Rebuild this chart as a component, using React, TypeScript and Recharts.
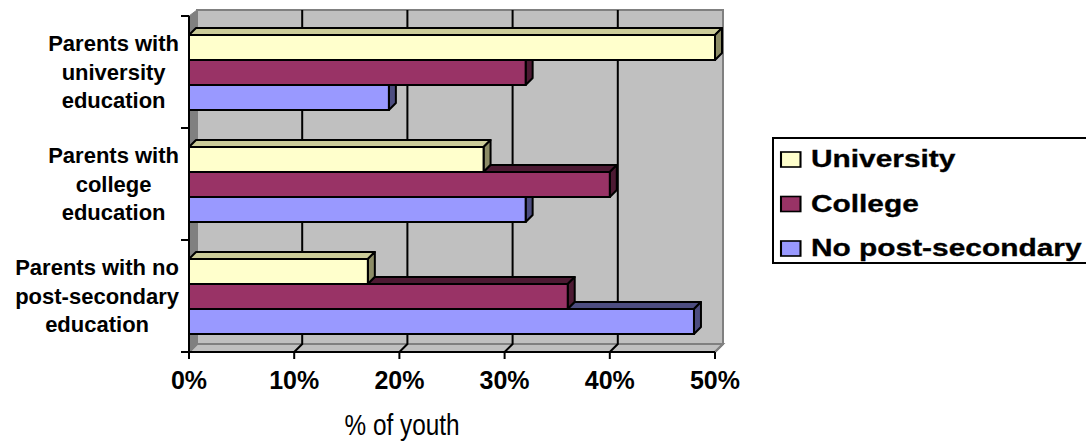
import React from "react";
import * as R from "recharts";

const { BarChart, Bar, XAxis, YAxis, CartesianGrid, Legend } = R;

// category labels, top to bottom, already split the way the chart wraps them
const categoryLines = [
  ["Parents with", "university", "education"],
  ["Parents with", "college", "education"],
  ["Parents with no", "post-secondary", "education"],
];
const categories = categoryLines.map((l) => l.join(" "));

// % of youth per series
const university = [50, 28, 17];
const college = [32, 40, 36];
const noPostSecondary = [19, 32, 48];

const xTicks = [0, 10, 20, 30, 40, 50];

const seriesKeys = ["university", "college", "noPost"];
const seriesNames = ["University", "College", "No post-secondary"];
const frontColors = ["#FFFFCC", "#993366", "#9999FF"];
const topColors = ["#CCCC99", "#4D1A33", "#4D4D80"];
const sideColors = ["#8C8C66", "#4D1A33", "#4D4D80"];

const data = categories.map((name, i) => ({
  name,
  university: university[i],
  college: college[i],
  noPost: noPostSecondary[i],
}));

const FONT = "'Liberation Sans', Arial, sans-serif";
const D = 8; // depth of the fake 3d walls
const BD = 7; // depth of the bars

const usePlot: () => any = (R as any).usePlotArea ?? (() => undefined);

// drawn as the grid's only "horizontal line" so it sits under the vertical grid lines
function Walls(_props: any) {
  const area = usePlot();
  if (!area) return null;
  const { x, y, width: w, height: h } = area;
  return (
    <g>
      <rect x={x + D} y={y - 6} width={w} height={h - 2} fill="#C0C0C0" stroke="#808080" strokeWidth={2} />
      <polygon
        points={`${x},${y} ${x + D},${y - 6} ${x + D},${y + h - D} ${x},${y + h}`}
        fill="#808080"
        stroke="#808080"
      />
      <polygon
        points={`${x},${y + h} ${x + D},${y + h - D} ${x + w + D},${y + h - D} ${x + w},${y + h}`}
        fill="#C0C0C0"
        stroke="#808080"
        strokeWidth={2}
      />
    </g>
  );
}

function gridLine(props: any) {
  const { x1, y1, y2, index } = props;
  const edge = index === 0 || index === xTicks.length - 1;
  return (
    <path
      key={`g-${index}-${x1}`}
      d={`M${x1},${y2} L${x1 + D},${y2 - D} L${x1 + D},${y1 - 6}`}
      fill="none"
      stroke={edge ? "#808080" : "#000"}
      strokeWidth={2}
    />
  );
}

function make3DBar(si: number) {
  return (props: any) => {
    const { x, y, width, height, payload } = props;
    if (!width || width <= 0) return <g />;
    const pxPer = width / payload[seriesKeys[si]];
    const right = x + width;
    const aboveEnd = si > 0 ? x + payload[seriesKeys[si - 1]] * pxPer : x;
    const parts: React.ReactNode[] = [];
    if (aboveEnd < right) {
      parts.push(
        <polygon
          key="top"
          points={`${aboveEnd},${y} ${right},${y} ${right + BD},${y - BD} ${aboveEnd + BD},${y - BD}`}
          fill={topColors[si]}
          stroke="#000"
          strokeWidth={2}
          strokeLinejoin="round"
        />
      );
    }
    const sideTop = aboveEnd > right ? y : y - BD;
    parts.push(
      <polygon
        key="side"
        points={`${right},${y + height} ${right + BD},${y + height - BD} ${right + BD},${sideTop} ${right},${y}`}
        fill={sideColors[si]}
        stroke="#000"
        strokeWidth={2}
        strokeLinejoin="round"
      />
    );
    parts.push(
      <rect key="front" x={x} y={y} width={width} height={height} fill={frontColors[si]} stroke="#000" strokeWidth={2} />
    );
    return <g>{parts}</g>;
  };
}

let measureCtx: CanvasRenderingContext2D | null = null;
function textWidth(s: string, font: string) {
  if (!measureCtx) measureCtx = document.createElement("canvas").getContext("2d");
  if (!measureCtx) return s.length * 11;
  measureCtx.font = font;
  return measureCtx.measureText(s).width;
}

function CategoryTick(props: any) {
  const { x, y, payload, index } = props;
  const lines = categoryLines[index] ?? [String(payload.value)];
  const font = `bold 22px ${FONT}`;
  const maxW = Math.max(...lines.map((l) => textWidth(l, font)));
  const cx = 179 - maxW / 2;
  const half = payload.offset ?? 56;
  const axisX = x + 8;
  return (
    <g>
      <line x1={axisX - 8} x2={axisX} y1={y - half} y2={y - half} stroke="#000" strokeWidth={2} />
      {index === categories.length - 1 && (
        <line x1={axisX - 8} x2={axisX} y1={y + half} y2={y + half} stroke="#000" strokeWidth={2} />
      )}
      {lines.map((l, i) => (
        <text
          key={i}
          x={cx}
          y={y - 21 + i * 28.5}
          textAnchor="middle"
          fontFamily={FONT}
          fontWeight="bold"
          fontSize={22}
          fill="#000"
        >
          {l}
        </text>
      ))}
    </g>
  );
}

// legend box runs off the right edge of the picture, so no right border
function LegendBox() {
  return (
    <svg width={300} height={128} style={{ display: "block", overflow: "visible" }}>
      <rect x={1} y={1} width={330} height={125} fill="#fff" />
      <path d="M330,1 L1,1 L1,126 L330,126" fill="none" stroke="#000" strokeWidth={2} />
      {seriesNames.map((n, i) => (
        <g key={n} transform={`translate(9, ${15 + i * 44.5}) scale(1.3, 1)`}>
          <rect x={0} y={0} width={15} height={15} fill={frontColors[i]} stroke="#000" strokeWidth={1.6} />
          <text x={23} y={15} fontFamily={FONT} fontWeight="bold" fontSize={23} fill="#000" stroke="#000" strokeWidth={0.3}>
            {n}
          </text>
        </g>
      ))}
    </svg>
  );
}

export default function App() {
  return (
    <div style={{ position: "absolute", left: 0, top: 0, width: 1086, height: 441, overflow: "hidden", background: "#fff" }}>
      <BarChart
        width={1086}
        height={441}
        data={data}
        layout="vertical"
        margin={{ top: 16, right: 371, left: 0, bottom: 0 }}
        barCategoryGap={19}
        barGap={0}
      >
        <CartesianGrid
          horizontal={<Walls />}
          horizontalCoordinatesGenerator={(p: any) => [(p?.offset?.top ?? 16) + 1]}
          vertical={gridLine}
          fill="none"
        />
        <XAxis
          type="number"
          domain={[0, 50]}
          ticks={xTicks}
          interval={0}
          tickFormatter={(v: number) => `${v}%`}
          height={89}
          axisLine={{ stroke: "#000", strokeWidth: 2 }}
          tickLine={{ stroke: "#000", strokeWidth: 2 }}
          tickSize={7}
          tickMargin={12}
          tick={{ fontSize: 25, fontWeight: "bold", fill: "#000", fontFamily: FONT }}
          label={({ viewBox }: any) => {
            const lx = viewBox.x + viewBox.width * 0.405;
            return (
              <text
                transform={`translate(${lx}, ${viewBox.y + 83}) scale(0.84, 1)`}
                textAnchor="middle"
                fontFamily={FONT}
                fontSize={29}
                fill="#000"
              >
                % of youth
              </text>
            );
          }}
        />
        <YAxis
          type="category"
          dataKey="name"
          width={189}
          tickLine={false}
          axisLine={{ stroke: "#000", strokeWidth: 2 }}
          tick={<CategoryTick />}
          interval={0}
        />
        <Legend
          layout="vertical"
          verticalAlign="middle"
          align="center"
          wrapperStyle={{ left: 772, top: 137, width: 300 }}
          content={<LegendBox />}
        />
        {seriesKeys.map((k, si) => (
          <Bar
            key={k}
            dataKey={k}
            name={seriesNames[si]}
            fill={frontColors[si]}
            shape={make3DBar(si)}
            isAnimationActive={false}
          />
        ))}
      </BarChart>
    </div>
  );
}
